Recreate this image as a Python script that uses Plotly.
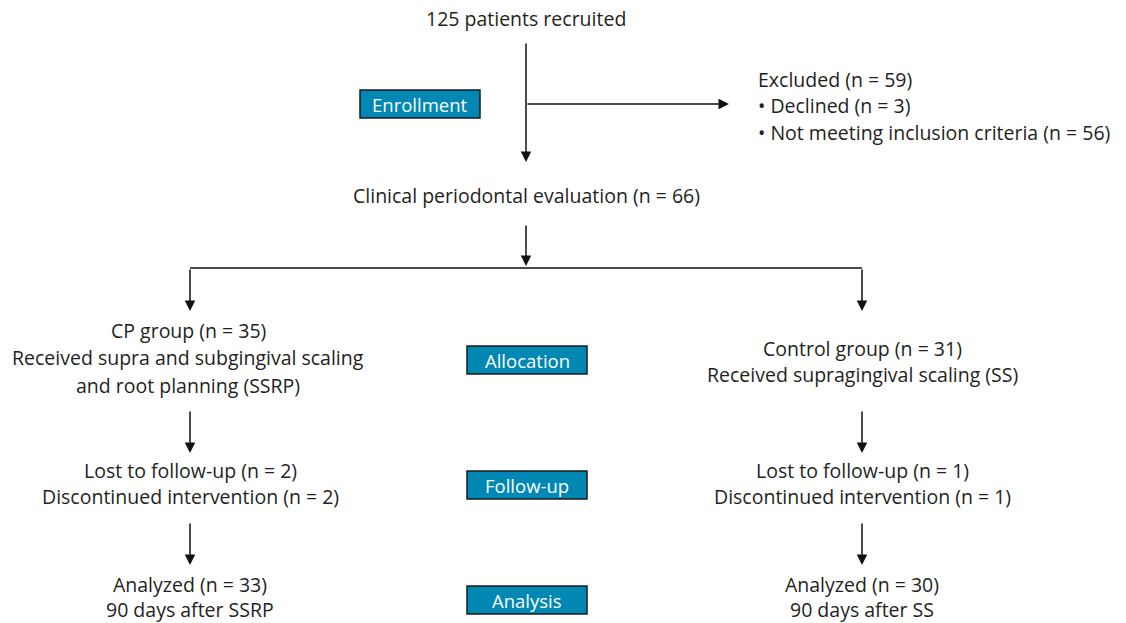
import plotly.graph_objects as go

W, H = 1126, 623
FONT = "Open Sans"
FS = 19.5
TXT = "#231f20"
BOX_FILL = "#0087b4"
BOX_LINE = "#1a1a1a"

top_label = "125 patients recruited"
eval_label = "Clinical periodontal evaluation (n = 66)"
excluded_lines = ["Excluded (n = 59)", "• Declined (n = 3)", "• Not meeting inclusion criteria (n = 56)"]
cp_lines = ["CP group (n = 35)", "Received supra and subgingival scaling", "and root planning (SSRP)"]
ctrl_lines = ["Control group (n = 31)", "Received supragingival scaling (SS)"]
cp_follow = ["Lost to follow-up (n = 2)", "Discontinued intervention (n = 2)"]
ctrl_follow = ["Lost to follow-up (n = 1)", "Discontinued intervention (n = 1)"]
cp_anal = ["Analyzed (n = 33)", "90 days after SSRP"]
ctrl_anal = ["Analyzed (n = 30)", "90 days after SS"]
stage_labels = ["Enrollment", "Allocation", "Follow-up", "Analysis"]

fig = go.Figure()
fig.add_trace(go.Scatter(x=[0, W], y=[0, H], mode="markers", marker=dict(opacity=0), hoverinfo="skip", showlegend=False))

ann = []
shapes = []

def text(x, y, s, anchor="center", size=FS):
    ann.append(dict(x=x, y=y, text=s, showarrow=False, xanchor=anchor, yanchor="middle",
                    font=dict(family=FONT, size=size, color=TXT)))

def block(x, ys, lines, anchor="center"):
    for y, s in zip(ys, lines):
        text(x, y, s, anchor)

def line(x0, y0, x1, y1):
    shapes.append(dict(type="line", x0=x0, y0=y0, x1=x1, y1=y1, xref="x", yref="y",
                       line=dict(color="#111", width=1.5)))

def arrow(x0, y0, x1, y1):
    ann.append(dict(x=x1, y=y1, ax=x0, ay=y0, xref="x", yref="y", axref="x", ayref="y",
                    text="", showarrow=True, arrowhead=2, arrowsize=1.4, arrowwidth=1.5,
                    arrowcolor="#111", standoff=0))

def box(xc, yc, s, w=120, h=28):
    shapes.append(dict(type="rect", x0=xc - w/2, x1=xc + w/2, y0=yc - h/2, y1=yc + h/2,
                       xref="x", yref="y", fillcolor=BOX_FILL, line=dict(color=BOX_LINE, width=1.5)))
    ann.append(dict(x=xc, y=yc, text=s, showarrow=False, xanchor="center", yanchor="middle",
                    font=dict(family=FONT, size=18.5, color="white")))

text(526, 18, top_label)
arrow(526, 42, 526, 162)
arrow(526, 104, 729, 104)
box(420, 104, stage_labels[0])
block(756, [79, 105, 132], excluded_lines, anchor="left")
text(526, 195, eval_label)
arrow(526, 224, 526, 266)
line(190, 268, 862, 268)
arrow(190, 268, 190, 311)
arrow(862, 268, 862, 311)
block(188, [330, 357, 385], cp_lines)
box(527, 360, stage_labels[1])
block(862, [348, 374], ctrl_lines)
arrow(190, 410, 190, 453)
arrow(862, 410, 862, 453)
block(190, [470, 496], cp_follow)
block(862, [470, 496], ctrl_follow)
box(527, 485, stage_labels[2])
arrow(190, 522, 190, 565)
arrow(862, 522, 862, 565)
block(190, [584, 609], cp_anal)
block(862, [584, 609], ctrl_anal)
box(527, 600, stage_labels[3])

fig.update_layout(
    width=W, height=H, margin=dict(l=0, r=0, t=0, b=0),
    paper_bgcolor="white", plot_bgcolor="white",
    xaxis=dict(range=[0, W], visible=False, fixedrange=True),
    yaxis=dict(range=[H, 0], visible=False, fixedrange=True),
    annotations=ann, shapes=shapes, showlegend=False,
)
fig.write_html("out.html", config={"displayModeBar": False},
               post_script="document.body.style.margin='0';document.body.style.overflow='hidden';")
